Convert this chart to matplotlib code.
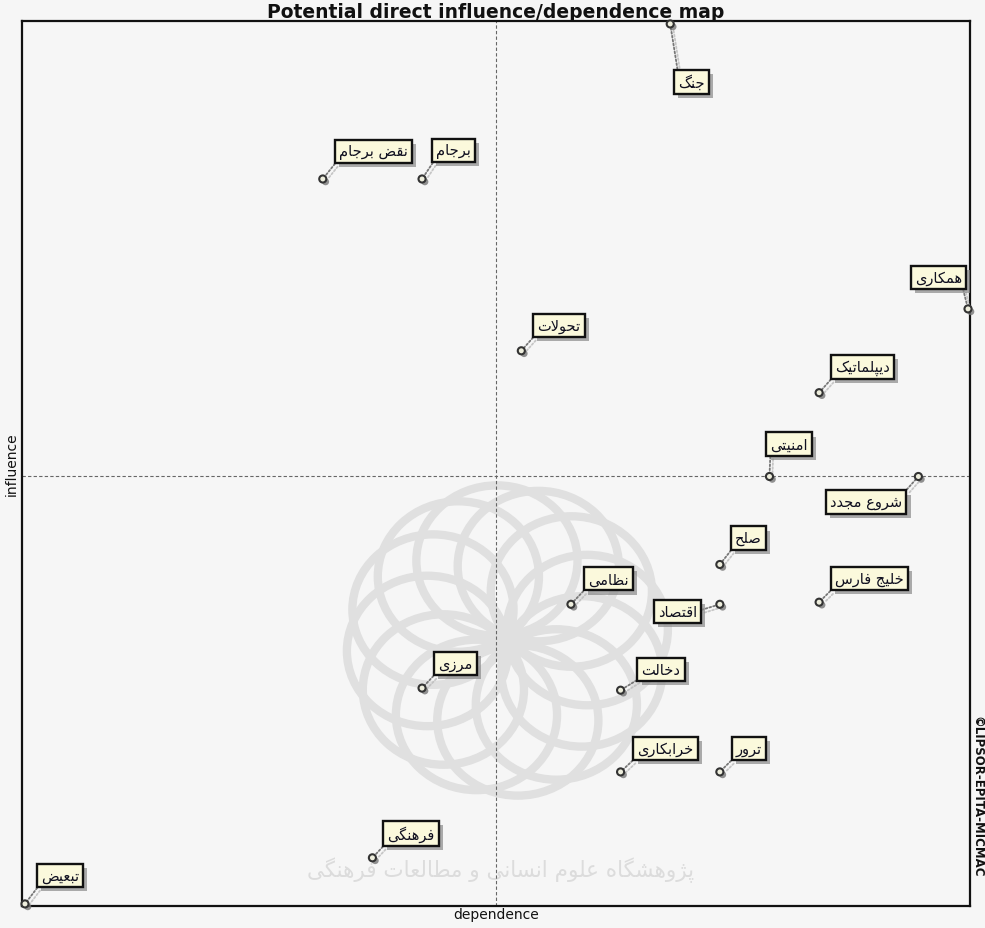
import numpy as np
import matplotlib
matplotlib.use("Agg")
import matplotlib.pyplot as plt
import matplotlib.patheffects as pe
from matplotlib.patches import Circle

# ---------------- data ----------------
labels = ["جنگ", "نقض برجام", "برجام", "تحولات", "همکاری", "دیپلماتیک",
          "امنیتی", "شروع مجدد", "صلح", "خلیج فارس", "نظامی", "اقتصاد",
          "مرزی", "دخالت", "خرابکاری", "ترور", "فرهنگی", "تبعیض"]
dependence = [13, 6, 8, 10, 19, 16, 15, 18, 14, 16, 11, 14, 8, 12, 12, 14, 7, 0]
influence = [21.0, 17.3, 17.3, 13.2, 14.2, 12.2, 10.2, 10.2, 8.1, 7.2, 7.15, 7.15,
             5.15, 5.1, 3.15, 3.15, 1.1, 0.0]
dep_mid = 9.5
inf_mid = 10.2
title = "Potential direct influence/dependence map"
xlabel = "dependence"
ylabel = "influence"
credit = "©LIPSOR-EPITA-MICMAC"
watermark = "پژوهشگاه علوم انسانی و مطالعات فرهنگی"

# ---------------- simple Arabic/Persian shaping ----------------
FORMS = {  # iso, fin, ini, med
    'ا': (0xFE8D, 0xFE8E, None, None), 'آ': (0xFE81, 0xFE82, None, None),
    'ب': (0xFE8F, 0xFE90, 0xFE91, 0xFE92), 'پ': (0xFB56, 0xFB57, 0xFB58, 0xFB59),
    'ت': (0xFE95, 0xFE96, 0xFE97, 0xFE98), 'ج': (0xFE9D, 0xFE9E, 0xFE9F, 0xFEA0),
    'ح': (0xFEA1, 0xFEA2, 0xFEA3, 0xFEA4), 'خ': (0xFEA5, 0xFEA6, 0xFEA7, 0xFEA8),
    'د': (0xFEA9, 0xFEAA, None, None), 'ر': (0xFEAD, 0xFEAE, None, None),
    'ز': (0xFEAF, 0xFEB0, None, None), 'ژ': (0xFB8A, 0xFB8B, None, None),
    'س': (0xFEB1, 0xFEB2, 0xFEB3, 0xFEB4), 'ش': (0xFEB5, 0xFEB6, 0xFEB7, 0xFEB8),
    'ص': (0xFEB9, 0xFEBA, 0xFEBB, 0xFEBC), 'ض': (0xFEBD, 0xFEBE, 0xFEBF, 0xFEC0),
    'ط': (0xFEC1, 0xFEC2, 0xFEC3, 0xFEC4), 'ظ': (0xFEC5, 0xFEC6, 0xFEC7, 0xFEC8),
    'ع': (0xFEC9, 0xFECA, 0xFECB, 0xFECC), 'ف': (0xFED1, 0xFED2, 0xFED3, 0xFED4),
    'ق': (0xFED5, 0xFED6, 0xFED7, 0xFED8), 'ک': (0xFB8E, 0xFB8F, 0xFB90, 0xFB91),
    'گ': (0xFB92, 0xFB93, 0xFB94, 0xFB95), 'ل': (0xFEDD, 0xFEDE, 0xFEDF, 0xFEE0),
    'م': (0xFEE1, 0xFEE2, 0xFEE3, 0xFEE4), 'ن': (0xFEE5, 0xFEE6, 0xFEE7, 0xFEE8),
    'ه': (0xFEE9, 0xFEEA, 0xFEEB, 0xFEEC), 'و': (0xFEED, 0xFEEE, None, None),
    'ی': (0xFBFC, 0xFBFD, 0xFBFE, 0xFBFF),
}


def dual(c):
    return c in FORMS and FORMS[c][2] is not None


def shape(s):
    out = []
    i = 0
    n = len(s)
    while i < n:
        c = s[i]
        prev = s[i - 1] if i > 0 else None
        jp = prev is not None and dual(prev)
        if c == 'ل' and i + 1 < n and s[i + 1] in ('ا',):
            out.append(chr(0xFEFC if jp else 0xFEFB))
            i += 2
            continue
        if c not in FORMS:
            out.append(c)
            i += 1
            continue
        nxt = s[i + 1] if i + 1 < n else None
        jn = dual(c) and nxt is not None and nxt in FORMS
        iso, fin, ini, med = FORMS[c]
        if jp and jn:
            g = med
        elif jp:
            g = fin
        elif jn:
            g = ini
        else:
            g = iso
        out.append(chr(g))
        i += 1
    return ''.join(reversed(out))


# ---------------- figure ----------------
BG = '#f6f6f6'
fig = plt.figure(figsize=(9.85, 9.29), dpi=100, facecolor=BG)
ax = fig.add_axes([22 / 985, 1 - 907 / 929, (970 - 22) / 985, (907 - 22) / 929])
ax.set_facecolor(BG)
ax.set_xlim(-0.06, 19.04)
ax.set_ylim(-0.05, 21.07)
ax.set_xticks([])
ax.set_yticks([])
for sp in ax.spines.values():
    sp.set_color('#111111')
    sp.set_linewidth(1.6)

# watermark rosette (faint)
cx, cy = 0.512, 0.30
R = 0.085
yfac = 948 / 885
for k in range(12):
    a = 2 * np.pi * k / 12 + 0.13
    ax.add_patch(Circle((cx + R * np.cos(a), cy + R * np.sin(a) * yfac),
                        R, transform=ax.transAxes, fill=False,
                        ec='#e0e0e0', lw=6, zorder=0))
ax.text(0.505, 0.042, shape(watermark), transform=ax.transAxes, ha='center',
        va='center', fontsize=15.5, color='#dcdcdc', family=['DejaVu Sans'], zorder=0)

# crosshair
ax.axvline(dep_mid, color='#666666', ls=(0, (3, 2)), lw=0.8, zorder=1)
ax.axhline(inf_mid, color='#666666', ls=(0, (3, 2)), lw=0.8, zorder=1)

# label placement: (dx px, dy px, ha, va, relpos)
default = (16, 20, 'left', 'bottom', (0, 0))
place = {
    "جنگ": (8, -50, 'left', 'top', (0, 1)),
    "همکاری": (-6, 24, 'right', 'bottom', (1, 0)),
    "امنیتی": (1, 25, 'left', 'bottom', (0, 0)),
    "شروع مجدد": (-16, -18, 'right', 'top', (1, 1)),
    "اقتصاد": (-23, -7, 'right', 'center', (1, 0.5)),
    "دخالت": (21, 13, 'left', 'bottom', (0, 0)),
    "برجام": (14, 21, 'left', 'bottom', (0, 0)),
    "تحولات": (16, 18, 'left', 'bottom', (0, 0)),
    "دیپلماتیک": (16, 18, 'left', 'bottom', (0, 0)),
    "صلح": (15, 19, 'left', 'bottom', (0, 0)),
    "خلیج فارس": (16, 16, 'left', 'bottom', (0, 0)),
    "نظامی": (17, 18, 'left', 'bottom', (0, 0)),
    "مرزی": (16, 17, 'left', 'bottom', (0, 0)),
    "خرابکاری": (17, 16, 'left', 'bottom', (0, 0)),
    "ترور": (16, 16, 'left', 'bottom', (0, 0)),
    "فرهنگی": (15, 16, 'left', 'bottom', (0, 0)),
    "تبعیض": (16, 21, 'left', 'bottom', (0, 0)),
}

shadow_patch = [pe.SimplePatchShadow(offset=(3, -3), shadow_rgbFace='#8a8a8a', alpha=0.7), pe.Normal()]
for lab, xv, yv in zip(labels, dependence, influence):
    dx, dy, ha, va, rp = place.get(lab, default)
    ann = ax.annotate(shape(lab), xy=(xv, yv), xytext=(dx, dy),
                      textcoords='offset pixels', ha=ha, va=va,
                      fontsize=10.5, color='#101020', family=['DejaVu Sans'],
                      bbox=dict(boxstyle='square,pad=0.28', fc='#fbf9dc', ec='#111111', lw=1.7),
                      arrowprops=dict(arrowstyle='-', ls=(0, (1, 1.2)), color='#777777', lw=1.3,
                                      relpos=rp, shrinkA=0, shrinkB=3),
                      zorder=5, annotation_clip=False)
    ann.get_bbox_patch().set_path_effects(shadow_patch)
    ann.arrow_patch.set_path_effects([pe.SimpleLineShadow(offset=(2, -2), shadow_color='#bbbbbb', alpha=0.8), pe.Normal()])

sc = ax.scatter(dependence, influence, s=26, facecolor='#eeeedd', edgecolor='#333333',
                linewidth=1.5, zorder=6, clip_on=False)
sc.set_path_effects([pe.SimplePatchShadow(offset=(2, -2), shadow_rgbFace='#777777', alpha=0.8), pe.Normal()])

ax.set_title(title, fontsize=13.5, fontweight='bold', family=['DejaVu Sans'], pad=2, color='#111111')
ax.set_xlabel(xlabel, fontsize=10, labelpad=1, color='#111111')
ax.set_ylabel(ylabel, fontsize=10, labelpad=2, color='#111111')
fig.text(977 / 985, 1 - 797 / 929, credit, rotation=270, ha='center', va='center',
         fontsize=8.5, fontweight='bold', color='#111111')

fig.savefig('out.png', dpi=100, facecolor=BG)
